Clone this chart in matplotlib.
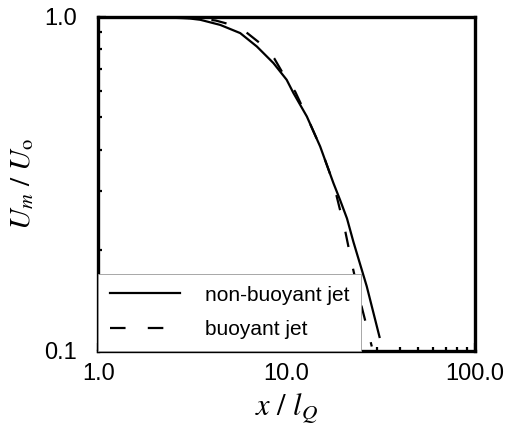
import numpy as np
import matplotlib
matplotlib.use("Agg")
import matplotlib.pyplot as plt
from matplotlib.ticker import FixedLocator, LogLocator, NullFormatter

plt.rcParams['font.family'] = ['Liberation Sans', 'DejaVu Sans']
plt.rcParams['mathtext.fontset'] = 'stix'

# values
x_nonbuoyant = [1.0, 2.0, 3.0, 3.48, 4.44, 5.67, 6.95, 8.51, 10.0, 10.87, 12.8,
                15.06, 17.7, 19.2, 20.9, 22.6, 26.6, 31.1]
u_nonbuoyant = [1.0, 0.998, 0.99, 0.98, 0.946, 0.894, 0.815, 0.727, 0.648, 0.591, 0.503,
                0.409, 0.318, 0.283, 0.249, 0.212, 0.156, 0.110]

x_buoyant = [1.0, 2.0, 3.3, 4.2, 5.12, 6.03, 7.79, 8.58, 10.0, 11.1, 12.8,
             15.06, 17.7, 20.4, 22.3, 24.8, 28.3]
u_buoyant = [1.0, 0.999, 0.99, 0.975, 0.946, 0.904, 0.806, 0.752, 0.648, 0.597, 0.503,
             0.409, 0.318, 0.230, 0.180, 0.138, 0.103]

fig = plt.figure(figsize=(5.06, 4.32), dpi=100)
ax = fig.add_axes([0.194, 0.188, 0.745, 0.773])

ax.plot(x_nonbuoyant, u_nonbuoyant, color='black', lw=1.6, label='non-buoyant jet')
ax.plot(x_buoyant, u_buoyant, color='black', lw=1.6, dashes=(7, 10), label='buoyant jet')

ax.set_xscale('log')
ax.set_yscale('log')
ax.set_xlim(1, 100)
ax.set_ylim(0.1, 1.0)

ax.xaxis.set_major_locator(FixedLocator([1, 10, 100]))
ax.set_xticklabels(['1.0', '10.0', '100.0'])
ax.yaxis.set_major_locator(FixedLocator([0.1, 1.0]))
ax.set_yticklabels(['0.1', '1.0'])
ax.xaxis.set_minor_locator(LogLocator(base=10, subs=np.arange(2, 10)))
ax.yaxis.set_minor_locator(LogLocator(base=10, subs=np.arange(2, 10)))
ax.xaxis.set_minor_formatter(NullFormatter())
ax.yaxis.set_minor_formatter(NullFormatter())

ax.tick_params(which='both', direction='in', top=False, right=False, labelsize=17)
ax.tick_params(which='major', length=6, width=1.6)
ax.tick_params(which='minor', length=3, width=1.6)
ax.tick_params(axis='x', pad=9)
ax.tick_params(axis='y', pad=15)

for s in ax.spines.values():
    s.set_linewidth(2.4)

ax.set_xlabel(r'$x\ /\ l_Q$', fontsize=22, labelpad=5)
ax.set_ylabel(r'$U_m\ /\ U_\mathrm{o}$', fontsize=21, labelpad=6)

leg = ax.legend(loc='lower left', borderaxespad=0, fancybox=False, edgecolor='#999999',
                handlelength=3.4, fontsize=15, framealpha=1, labelspacing=0.75,
                borderpad=0.55, handletextpad=1.2)
leg.get_frame().set_linewidth(0.6)

fig.savefig('out.png', dpi=100)
